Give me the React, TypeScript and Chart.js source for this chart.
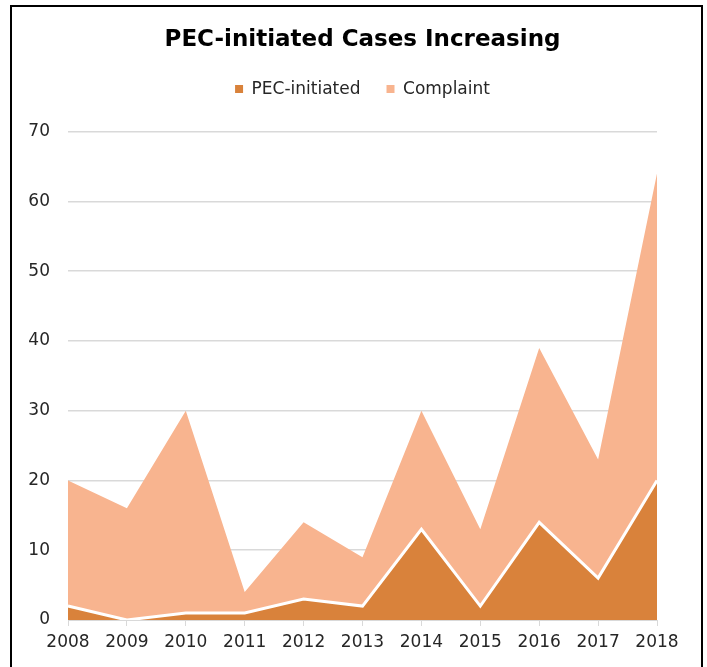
import React, { useEffect, useRef } from "react";
import { Chart, registerables } from "chart.js";

Chart.register(...registerables);

const years = ["2008", "2009", "2010", "2011", "2012", "2013", "2014", "2015", "2016", "2017", "2018"];
const pecInitiated = [2, 0, 1, 1, 3, 2, 13, 2, 14, 6, 20];
const complaint = [18, 16, 29, 3, 11, 7, 17, 11, 25, 17, 44];
const yMin = 0;
const yMax = 70;
const yStep = 10;

const FONT = "'DejaVu Sans', sans-serif";
const PEC_COLOR = "#D9823B";
const COMPLAINT_COLOR = "#F8B48F";
const GRID = "#D9D9D9";
const TEXT = "#262626";

const legendSpacer = {
  id: "legendSpacer",
  beforeInit(chart: any) {
    const legend = chart.legend;
    if (!legend) return;
    const orig = legend.fit;
    legend.fit = function () {
      orig.call(this);
      this.height += 24;
    };
  },
};

export default function App() {
  const ref = useRef<HTMLCanvasElement>(null);

  useEffect(() => {
    const chart = new Chart(ref.current!, {
      type: "line",
      data: {
        labels: years,
        datasets: [
          {
            label: "PEC-initiated",
            data: pecInitiated,
            backgroundColor: PEC_COLOR,
            borderColor: "#FFFFFF",
            borderWidth: 3,
            fill: "origin",
            pointRadius: 0,
            tension: 0,
          },
          {
            label: "Complaint",
            data: complaint,
            backgroundColor: COMPLAINT_COLOR,
            borderColor: COMPLAINT_COLOR,
            borderWidth: 0,
            fill: "-1",
            pointRadius: 0,
            tension: 0,
          },
        ],
      },
      plugins: [legendSpacer],
      options: {
        responsive: false,
        animation: false,
        layout: { padding: { left: 0, right: 44, top: 0, bottom: 0 } },
        plugins: {
          tooltip: { enabled: false },
          title: {
            display: true,
            fullSize: false,
            text: "PEC-initiated Cases Increasing",
            color: "#000000",
            font: { family: FONT, size: 23, weight: "bold" },
            padding: { top: 19, bottom: 1 },
          },
          legend: {
            display: true,
            fullSize: false,
            labels: {
              color: TEXT,
              font: { family: FONT, size: 17 },
              boxWidth: 8,
              boxHeight: 8,
              padding: 26,
              generateLabels: (c: any) =>
                c.data.datasets.map((ds: any, i: number) => ({
                  text: ds.label,
                  fillStyle: ds.backgroundColor,
                  strokeStyle: ds.backgroundColor,
                  lineWidth: 0,
                  hidden: false,
                  datasetIndex: i,
                  fontColor: TEXT,
                })),
            },
          },
        },
        scales: {
          x: {
            offset: false,
            grid: {
              display: true,
              drawOnChartArea: false,
              drawTicks: true,
              tickLength: 6,
              color: GRID,
            },
            border: { display: true, color: GRID },
            ticks: {
              color: TEXT,
              font: { family: FONT, size: 17 },
              padding: 6,
              maxRotation: 0,
              autoSkip: false,
            },
            afterFit: (s: any) => {
              s.height = 47;
            },
          },
          y: {
            stacked: true,
            min: yMin,
            max: yMax,
            grid: { color: GRID, drawTicks: false, lineWidth: 1.5 },
            border: { display: false },
            ticks: {
              stepSize: yStep,
              color: TEXT,
              font: { family: FONT, size: 17 },
              padding: 18,
            },
            afterFit: (s: any) => {
              s.width = 56;
            },
          },
        },
      },
    });
    return () => chart.destroy();
  }, []);

  return (
    <div
      style={{
        position: "fixed",
        left: 10,
        top: 5,
        width: 689,
        height: 700,
        border: "2px solid #000",
        background: "#fff",
      }}
    >
      <canvas ref={ref} width={689} height={660} style={{ display: "block" }} />
    </div>
  );
}
